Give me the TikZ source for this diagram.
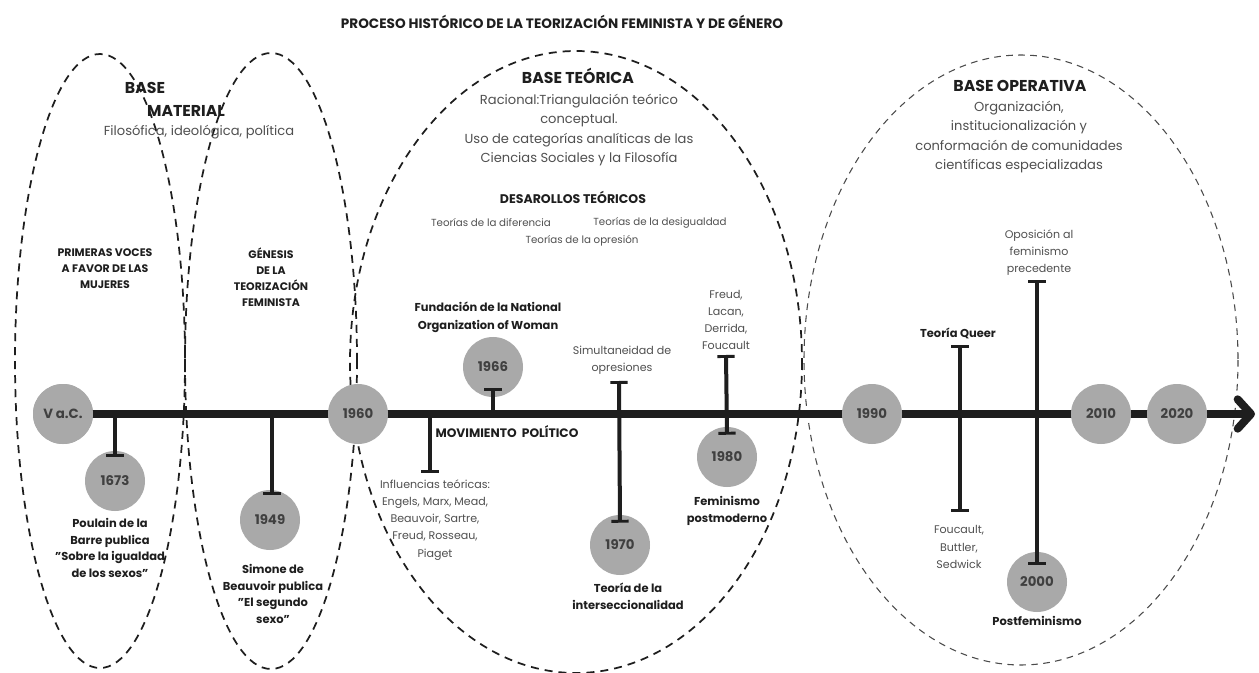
\documentclass[tikz,border=0pt]{standalone}
\usepackage{fontspec}
\setmainfont{Poppins}
\usepackage{tikz}
\usetikzlibrary{positioning, calc}
\usetikzlibrary{arrows.meta}
\definecolor{yeargray}{HTML}{A9A9A9}
\definecolor{inkdark}{HTML}{1E1E1E}
\definecolor{inkgray}{HTML}{505050}
\newcommand{\qmark}{\symbol{34}}

\begin{document}
\begin{tikzpicture}[x=0.75pt,y=-0.75pt]
	\def \timeline{414}
	\tikzstyle{y-node}=[circle,fill=yeargray,inner sep=0pt,minimum size=45pt,text=inkdark!85,font=\fontsize{10}{12}\selectfont\bfseries]
	\tikzstyle{stem}=[line width=3pt,draw=inkdark]
	\tikzstyle{zone}=[draw=inkdark,line width=1.3pt,dash pattern=on 6pt off 4.5pt]
	\tikzstyle{thin-zone}=[draw=inkdark!80,line width=0.8pt,dash pattern=on 5pt off 4pt]
	\tikzstyle{head}=[text=inkdark,font=\fontsize{11.8}{14}\selectfont\bfseries]
	\tikzstyle{desc}=[text=inkgray,align=center,font=\fontsize{9.8}{14.5}\selectfont]
	\tikzstyle{note}=[text=inkgray,align=center,font=\fontsize{8.3}{12.8}\selectfont]
	\tikzstyle{b-note}=[text=inkdark,align=center,font=\fontsize{8.6}{12.6}\selectfont\bfseries]
	\tikzstyle{caps}=[text=inkdark,align=center,font=\fontsize{8.2}{12}\selectfont\bfseries]

	\useasboundingbox (0,0) rectangle (1259,673);
	\fill[white] (0,0) rectangle (1259,673);

	% title
	\node[text=inkdark,font=\fontsize{10.2}{12}\selectfont\bfseries] (title) at (562,22) {PROCESO HISTÓRICO DE LA TEORIZACIÓN FEMINISTA Y DE GÉNERO};

	% zones
	\draw[zone] (100,361) ellipse [x radius=85, y radius=307];
	\draw[zone] (271,361) ellipse [x radius=86, y radius=308];
	\draw[zone] (576,362) ellipse [x radius=226, y radius=311];
	\draw[thin-zone] (1021,360) ellipse [x radius=217, y radius=305];

	% zone texts
	\node[head] (base-mat1) at (145,88) {BASE};
	\node[head] (base-mat2) at (186,111) {MATERIAL};
	\node[desc] (mat-desc) at (199,132) {Filosófica, ideológica, política};
	\node[caps] (voces) at (105,269) {PRIMERAS VOCES\\A FAVOR DE LAS\\MUJERES};
	\node[caps] (genesis) at (271,277) {GÉNESIS\\DE LA\\TEORIZACIÓN\\FEMINISTA};

	\node[head] (base-teo) at (578,76) {BASE TEÓRICA};
	\node[desc] (teo-desc) at (579,130) {Racional:Triangulación teórico\\conceptual.\\Uso de categorías analíticas de las\\Ciencias Sociales y la Filosofía};
	\node[text=inkdark,font=\fontsize{9.4}{11}\selectfont\bfseries] (desarollos) at (573,197) {DESAROLLOS TEÓRICOS};
	\node[note,font=\fontsize{7.7}{10}\selectfont] (t-dif) at (491,223) {Teorías de la diferencia};
	\node[note,font=\fontsize{7.7}{10}\selectfont] (t-des) at (660,223) {Teorías de la desigualdad};
	\node[note,font=\fontsize{7.7}{10}\selectfont] (t-opr) at (582,241) {Teorías de la opresión};

	\node[head] (base-op) at (1020,86) {BASE OPERATIVA};
	\node[desc] (op-desc) at (1019,137) {Organización,\\institucionalización y\\conformación de comunidades\\científicas especializadas};

	% timeline
	\coordinate (t-end) at (1255,\timeline);
	\node[y-node] (vac) at (63,\timeline) {V a.C.};
	\draw[line width=6pt,draw=inkdark,-{Straight Barb[length=10pt,width=22pt,round]}] (vac.center) -- (t-end);

	% year circles
	\node[y-node] (c1673) at (115,481) {1673};
	\node[y-node] (c1949) at (270,520) {1949};
	\node[y-node] (c1960) at (358,\timeline) {1960};
	\node[y-node] (c1966) at (493,367) {1966};
	\node[y-node] (c1970) at (620,545) {1970};
	\node[y-node] (c1980) at (727,457) {1980};
	\node[y-node] (c1990) at (872,\timeline) {1990};
	\node[y-node] (c2000) at (1037,582) {2000};
	\node[y-node] (c2010) at (1101,\timeline) {2010};
	\node[y-node] (c2020) at (1177,\timeline) {2020};
	\node[y-node] (vac) at (63,\timeline) {V a.C.};

	% stem ends
	\coordinate (s1673) at (115,\timeline);
	\coordinate (s1949) at (272,\timeline);
	\coordinate (s-infl) at (430,\timeline);
	\coordinate (e-infl) at (430,473);
	\coordinate (s1966) at (493,\timeline);
	\coordinate (e-sim) at (619,381);
	\coordinate (e-freud) at (726,355);
	\coordinate (e-queer) at (960,345);
	\coordinate (e-fouc) at (960,512);
	\coordinate (e-opos) at (1037,280);

	% stems
	\draw[stem,-{Bar[width=13pt,line width=2.2pt]}] (s1673) -- ([yshift=-5pt]c1673.north);
	\draw[stem,-{Bar[width=13pt,line width=2.2pt]}] (s1949) -- ([xshift=1.5pt,yshift=-4pt]c1949.north);
	\draw[stem,-{Bar[width=13pt,line width=2.2pt]}] (s-infl) -- (e-infl);
	\draw[stem,-{Bar[width=13pt,line width=2.2pt]}] (s1966) -- ([yshift=7pt]c1966.south);
	\draw[stem,{Bar[width=13pt,line width=2.2pt]}-{Bar[width=13pt,line width=2.2pt]}] (e-sim) -- ([yshift=-6pt]c1970.north);
	\draw[stem,{Bar[width=13pt,line width=2.2pt]}-{Bar[width=13pt,line width=2.2pt]}] (e-freud) -- ([yshift=-6pt]c1980.north);
	\draw[stem,{Bar[width=13pt,line width=2.2pt]}-{Bar[width=13pt,line width=2.2pt]}] (e-queer) -- (e-fouc);
	\draw[stem,{Bar[width=13pt,line width=2.2pt]}-{Bar[width=13pt,line width=2.2pt]}] (e-opos) -- ([yshift=-10pt]c2000.north);

	% event texts
	\node[b-note] (poulain) at (110,548) {Poulain de la\\Barre publica\\\qmark Sobre la igualdad\\de los sexos\qmark};
	\node[b-note] (simone) at (273,594) {Simone de\\Beauvoir publica\\\qmark El segundo\\sexo\qmark};
	\node[b-note,font=\fontsize{8.6}{13.5}\selectfont\bfseries] (fundacion) at (488,317) {Fundación de la National\\Organization of Woman};
	\node[text=inkdark,font=\fontsize{9.2}{11}\selectfont\bfseries] (movim) at (507,432) {MOVIMIENTO\ \ POLÍTICO};
	\node[note] (influ) at (435,520) {Influencias teóricas:\\Engels, Marx, Mead,\\Beauvoir, Sartre,\\Freud, Rosseau,\\Piaget};
	\node[note] (simul) at (622,360) {Simultaneidad de\\opresiones};
	\node[b-note] (inter) at (628,596) {Teoría de la\\interseccionalidad};
	\node[note] (freud) at (726,320) {Freud,\\Lacan,\\Derrida,\\Foucault};
	\node[b-note] (posmod) at (727,511) {Feminismo\\postmoderno};
	\node[b-note] (queer) at (958,333) {Teoría Queer};
	\node[note] (fouc) at (959,547) {Foucault,\\Buttler,\\Sedwick};
	\node[note] (opos) at (1039,253) {Oposición al\\feminismo\\precedente};
	\node[b-note] (postfem) at (1037,621) {Postfeminismo};
\end{tikzpicture}
\end{document}
